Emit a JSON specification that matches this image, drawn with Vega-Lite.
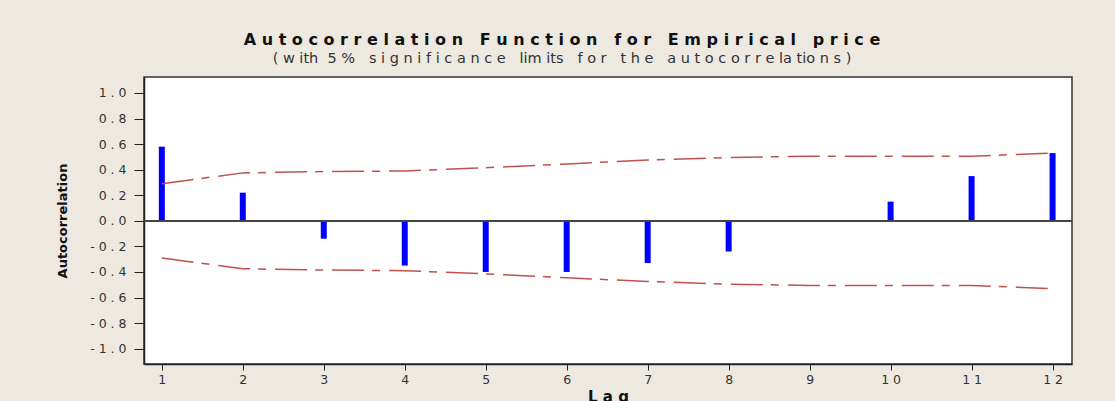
{
  "$schema": "https://vega.github.io/schema/vega-lite/v6.json",
  "width": 928,
  "height": 287,
  "autosize": {"type": "none"},
  "padding": {"left": 144, "top": 77, "right": 43, "bottom": 37},
  "background": "#EDE9E0",
  "config": {
    "view": {"fill": "white", "stroke": "#333333", "strokeWidth": 1.5},
    "font": "DejaVu Sans",
    "axis": {
      "grid": false,
      "domainColor": "#222222",
      "domainWidth": 1.5,
      "tickColor": "#222222",
      "labelColor": "#333333",
      "labelFont": "DejaVu Sans",
      "labelFontSize": 12.5,
      "labelOverlap": false,
      "titleFont": "DejaVu Sans",
      "titleFontWeight": "bold",
      "titleColor": "#111111"
    }
  },
  "title": {
    "text": "A u t o c o r r e l a t i o n \u00a0 F u n c t i o n \u00a0 f o r \u00a0 E m p i r i c a l \u00a0 p r i c e",
    "subtitle": "( w ith \u00a05 % \u00a0 s i g n i f i c a n c e \u00a0 lim its \u00a0 f o r \u00a0 t h e \u00a0 a u t o c o r r e la tio n s )",
    "anchor": "middle",
    "frame": "group",
    "dx": -46,
    "offset": 12,
    "font": "DejaVu Sans",
    "fontSize": 16,
    "fontWeight": "bold",
    "color": "#111111",
    "subtitleFont": "DejaVu Sans",
    "subtitleFontSize": 14.5,
    "subtitleColor": "#333333",
    "subtitlePadding": 4
  },
  "data": {
    "values": [
      {"lag": 1, "acf": 0.58, "upper": 0.29, "lower": -0.29},
      {"lag": 2, "acf": 0.22, "upper": 0.375, "lower": -0.375},
      {"lag": 3, "acf": -0.14, "upper": 0.385, "lower": -0.385},
      {"lag": 4, "acf": -0.35, "upper": 0.39, "lower": -0.39},
      {"lag": 5, "acf": -0.40, "upper": 0.415, "lower": -0.415},
      {"lag": 6, "acf": -0.40, "upper": 0.445, "lower": -0.445},
      {"lag": 7, "acf": -0.33, "upper": 0.475, "lower": -0.475},
      {"lag": 8, "acf": -0.24, "upper": 0.495, "lower": -0.495},
      {"lag": 9, "acf": -0.005, "upper": 0.505, "lower": -0.505},
      {"lag": 10, "acf": 0.15, "upper": 0.505, "lower": -0.505},
      {"lag": 11, "acf": 0.35, "upper": 0.505, "lower": -0.505},
      {"lag": 12, "acf": 0.53, "upper": 0.53, "lower": -0.53}
    ]
  },
  "layer": [
    {
      "mark": {"type": "rule", "color": "#0000FF", "strokeWidth": 6},
      "encoding": {
        "x": {
          "field": "lag",
          "type": "quantitative",
          "scale": {"domain": [0.78, 12.24], "nice": false, "zero": false},
          "axis": {
            "title": "L a g",
            "titleFontSize": 15,
            "titlePadding": 4,
            "values": [1, 2, 3, 4, 5, 6, 7, 8, 9, 10, 11, 12],
            "tickCount": 30,
            "tickSize": 6,
            "labelPadding": 3,
            "labelOverlap": false,
            "labelExpr": "join(split(format(datum.value, 'd'), ''), ' ')"
          }
        },
        "y": {
          "field": "acf",
          "type": "quantitative",
          "scale": {"domain": [-1.12, 1.125], "nice": false, "zero": false},
          "axis": {
            "title": "Autocorrelation",
            "titleFontSize": 13,
            "titlePadding": 20,
            "values": [-1, -0.8, -0.6, -0.4, -0.2, 0, 0.2, 0.4, 0.6, 0.8, 1],
            "tickCount": 30,
            "tickSize": 10,
            "labelPadding": 8,
            "labelOverlap": false,
            "labelFlush": false,
            "labelExpr": "(datum.value < -0.001 ? '- ' : '') + join(split(format(abs(datum.value), '.1f'), ''), ' ')"
          }
        },
        "y2": {"datum": 0}
      }
    },
    {
      "mark": {"type": "rule", "color": "#444444", "strokeWidth": 1},
      "encoding": {
        "y": {"datum": 0, "type": "quantitative", "axis": {"title": "Autocorrelation"}}
      }
    },
    {
      "mark": {"type": "line", "color": "#C0504D", "strokeWidth": 1.5, "strokeDash": [32, 8, 8, 9]},
      "encoding": {
        "x": {"field": "lag", "type": "quantitative", "axis": {"title": "L a g"}},
        "y": {"field": "upper", "type": "quantitative", "axis": {"title": "Autocorrelation"}}
      }
    },
    {
      "mark": {"type": "line", "color": "#C0504D", "strokeWidth": 1.5, "strokeDash": [32, 8, 8, 9]},
      "encoding": {
        "x": {"field": "lag", "type": "quantitative", "axis": {"title": "L a g"}},
        "y": {"field": "lower", "type": "quantitative", "axis": {"title": "Autocorrelation"}}
      }
    }
  ]
}
